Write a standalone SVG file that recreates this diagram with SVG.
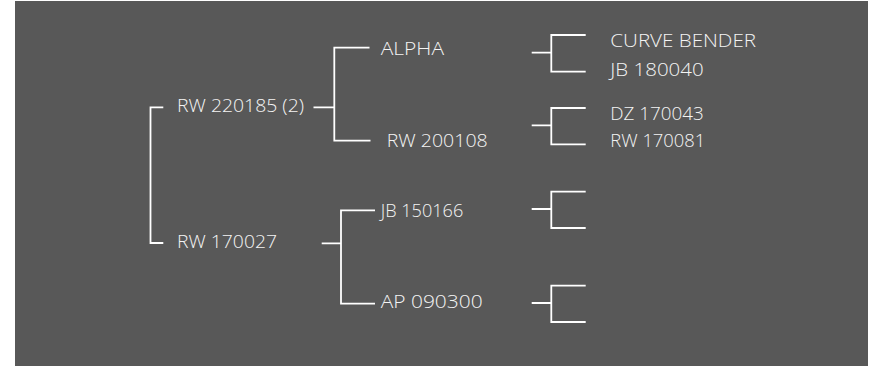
<svg xmlns="http://www.w3.org/2000/svg" width="877" height="366" viewBox="0 0 877 366">
<style>
.bg{fill:#585858}
.c{fill:none;stroke:#ffffff;stroke-width:1.8;stroke-linecap:butt;stroke-linejoin:miter}
.t{font-family:"Open Sans","Liberation Sans",sans-serif;font-weight:300;font-size:19px;fill:#f4f4f4}
</style>
<rect x="0" y="0" width="877" height="366" fill="#ffffff"/>
<rect class="bg" x="15" y="1" width="853" height="365"/>
<g id="connectors">
<path class="c" d="M163.3,107.3 H150.5 V243 H163.3"/>
<path class="c" d="M313.5,107.3 H334.3 M369.5,47.7 H334.3 V140.7 H370.5"/>
<path class="c" d="M321.7,243.3 H341 M375,210.3 H341 V303.7 H375"/>
<path class="c" d="M531.7,52.7 H551.3 M585.7,35 H551.3 V71.7 H585.7"/>
<path class="c" d="M531.7,125.3 H551.3 M585.7,108 H551.3 V144.3 H585.7"/>
<path class="c" d="M531.7,209 H551.3 M585.7,191.7 H551.3 V228 H585.7"/>
<path class="c" d="M531.7,303 H551.3 M585.7,285.7 H551.3 V322 H585.7"/>
</g>
<g id="n_rw220185"><text class="t" x="177" y="111.7" textLength="127" lengthAdjust="spacingAndGlyphs">RW 220185 (2)</text></g>
<g id="n_rw170027"><text class="t" x="177" y="248.3" textLength="100" lengthAdjust="spacingAndGlyphs">RW 170027</text></g>
<g id="n_alpha"><text class="t" x="380.7" y="55" textLength="63.3" lengthAdjust="spacingAndGlyphs">ALPHA</text></g>
<g id="n_rw200108"><text class="t" x="386.7" y="147" textLength="101" lengthAdjust="spacingAndGlyphs">RW 200108</text></g>
<g id="n_jb150166"><text class="t" x="380.7" y="216.7" textLength="82.6" lengthAdjust="spacingAndGlyphs">JB 150166</text></g>
<g id="n_ap090300"><text class="t" x="380.7" y="308.3" textLength="102" lengthAdjust="spacingAndGlyphs">AP 090300</text></g>
<g id="n_curvebender"><text class="t" x="610.3" y="47.3" textLength="145.7" lengthAdjust="spacingAndGlyphs">CURVE BENDER</text></g>
<g id="n_jb180040"><text class="t" x="610.3" y="76" textLength="93.4" lengthAdjust="spacingAndGlyphs">JB 180040</text></g>
<g id="n_dz170043"><text class="t" x="610.3" y="120" textLength="93.4" lengthAdjust="spacingAndGlyphs">DZ 170043</text></g>
<g id="n_rw170081"><text class="t" x="610.3" y="147.3" textLength="95" lengthAdjust="spacingAndGlyphs">RW 170081</text></g>
</svg>
